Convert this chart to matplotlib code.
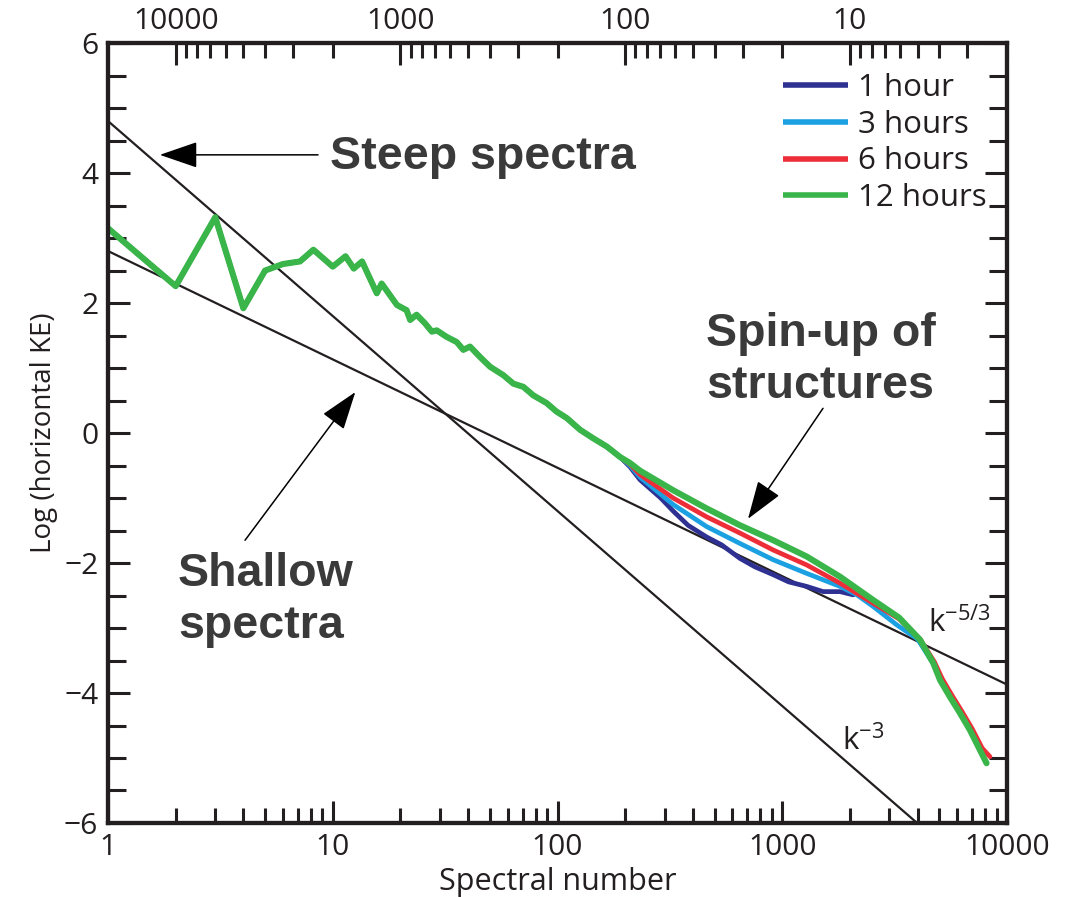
import matplotlib
matplotlib.use("Agg")
import matplotlib.pyplot as plt
from matplotlib.ticker import FixedLocator, NullFormatter

# low wavenumbers: all four runs lie on top of each other here
k_low = [1, 2, 3, 4, 5, 6, 7.15, 8.2, 10, 11.4, 12.4, 13.5, 15.7, 16.5, 19.3,
         21.3, 22.1, 23.6, 25.7, 27.6, 29, 32.1, 35.6, 38.1, 40.8, 45.2, 50.1,
         57.4, 63.6, 70.5, 78, 89.5, 99, 110, 126, 144, 166, 190]
ke_low = [3.15, 2.26, 3.32, 1.92, 2.5, 2.6, 2.64, 2.82, 2.56, 2.72, 2.53, 2.64,
          2.15, 2.30, 1.97, 1.89, 1.74, 1.82, 1.69, 1.56, 1.58, 1.48, 1.40, 1.28,
          1.33, 1.17, 1.02, 0.89, 0.76, 0.71, 0.58, 0.46, 0.33, 0.23, 0.05,
          -0.08, -0.21, -0.37]

# higher wavenumbers, one tail per forecast time
k_1h = [210, 233, 288, 327, 381, 461, 537, 649, 757, 912, 1067, 1285, 1520, 1807, 2070]
ke_1h = [-0.52, -0.72, -1.00, -1.20, -1.42, -1.60, -1.72, -1.93, -2.06, -2.18, -2.29,
         -2.36, -2.44, -2.44, -2.49]

k_3h = [210, 233, 327, 461, 649, 912, 1285, 1807, 2150, 2541, 3228, 4000, 4700, 5035]
ke_3h = [-0.50, -0.68, -1.10, -1.44, -1.70, -1.95, -2.16, -2.36, -2.49, -2.67, -2.95,
         -3.17, -3.55, -3.80]

k_6h = [210, 233, 327, 461, 649, 912, 1285, 1807, 2541, 3311, 4102, 4750, 5150, 5700,
        6320, 7000, 7760, 8400]
ke_6h = [-0.48, -0.64, -1.00, -1.29, -1.54, -1.80, -2.03, -2.31, -2.62, -2.86, -3.17,
         -3.52, -3.78, -4.04, -4.29, -4.55, -4.85, -4.98]

k_12h = [210, 233, 327, 461, 649, 912, 1285, 1807, 2541, 3311, 4102, 4699, 5035, 5572,
         6180, 6839, 7586, 8110]
ke_12h = [-0.46, -0.58, -0.88, -1.16, -1.42, -1.65, -1.90, -2.21, -2.57, -2.84, -3.18,
          -3.54, -3.80, -4.06, -4.31, -4.57, -4.88, -5.08]

labels = ["1 hour", "3 hours", "6 hours", "12 hours"]
colors = ["#2e3192", "#1ba1e2", "#ed2e38", "#39b54a"]

# reference power laws (end points on the log-log axes)
steep_k = [1, 10000]
steep_ke = [4.8, -7.2]          # k^-3
shallow_k = [1, 10000]
shallow_ke = [2.8, -3.87]       # k^-5/3

# wavelength (km) ticks for the top axis, k = 20000 / wavelength
wl_major = [10000, 1000, 100, 10]
wl_minor = [m * 10 ** e for e in range(4) for m in range(2, 10)]

ink = "#231f20"
note = "#3a3a3a"
tick_font = "Open Sans"

fig = plt.figure(figsize=(10.77, 8.97), dpi=100)
ax = fig.add_axes([0.1003, 0.0825, 0.8347, 0.8695])

tails = [(k_1h, ke_1h), (k_3h, ke_3h), (k_6h, ke_6h), (k_12h, ke_12h)]
widths = [3.4, 3.4, 3.4, 4.4]
for (kt, et), lab, c, lw in zip(tails, labels, colors, widths):
    ax.plot(k_low + kt, ke_low + et, color=c, lw=lw, label=lab,
            solid_joinstyle="round", solid_capstyle="round")

ax.plot(steep_k, steep_ke, color=ink, lw=1.6, zorder=1)
ax.plot(shallow_k, shallow_ke, color=ink, lw=1.6, zorder=1)

ax.set_xscale("log")
ax.set_xlim(1, 10000)
ax.set_ylim(-6, 6)
ax.set_xticks([1, 10, 100, 1000, 10000])
ax.set_xticklabels(["1", "10", "100", "1000", "10000"])
ax.xaxis.set_minor_locator(FixedLocator([m * 10 ** e for e in range(4) for m in range(2, 10)]))
ax.xaxis.set_minor_formatter(NullFormatter())
ax.set_yticks(range(-6, 7, 2))
ax.set_yticklabels(["\u22126", "\u22124", "\u22122", "0", "2", "4", "6"])
ax.yaxis.set_minor_locator(FixedLocator([v / 2 for v in range(-12, 13)]))

ax.tick_params(which="both", direction="in", width=2.2, color=ink,
               labelsize=21.5, labelcolor=ink, top=False, right=True)
ax.tick_params(which="major", length=15.5, pad=7)
ax.tick_params(axis="x", which="minor", length=10.5)
ax.tick_params(axis="y", which="minor", length=13)
for lab in ax.get_xticklabels() + ax.get_yticklabels():
    lab.set_fontfamily(tick_font)
for sp in ax.spines.values():
    sp.set_linewidth(3.0)
    sp.set_color(ink)

ax.set_xlabel("Spectral number", fontsize=22, family=tick_font, color=ink, labelpad=4)
ax.set_ylabel("Log (horizontal KE)", fontsize=20, family=tick_font, color=ink, labelpad=4)

# top axis: wavelength in km
top = ax.twiny()
top.set_xscale("log")
top.set_xlim(ax.get_xlim())
top.set_xticks([20000 / w for w in wl_major])
top.set_xticklabels([str(w) for w in wl_major])
top.xaxis.set_minor_locator(FixedLocator([20000 / w for w in wl_minor]))
top.xaxis.set_minor_formatter(NullFormatter())
top.tick_params(which="both", direction="in", width=2.2, color=ink,
                labelsize=21.5, labelcolor=ink)
top.tick_params(which="major", length=15.5, pad=5)
top.tick_params(which="minor", length=10.5)
for lab in top.get_xticklabels():
    lab.set_fontfamily(tick_font)
for sp in top.spines.values():
    sp.set_linewidth(3.0)
    sp.set_color(ink)

leg = ax.legend(loc="upper right", bbox_to_anchor=(0.977, 0.962), frameon=False,
                prop={"family": tick_font, "size": 22.5}, handlelength=2.1,
                handletextpad=0.3, labelspacing=0.22, borderaxespad=0, borderpad=0)
for t in leg.get_texts():
    t.set_color(ink)
for h in leg.legend_handles:
    h.set_linewidth(4.0)
    h.set_solid_capstyle("butt")

arrow = dict(arrowstyle="-|>,head_length=1.6,head_width=0.55", mutation_scale=15,
             color="black", lw=1.1, shrinkA=0, shrinkB=0)
bold = dict(family="Liberation Sans", weight="bold", size=33.5, color=note)

ax.annotate("", xy=(1.70, 4.28), xytext=(8.6, 4.28), arrowprops=arrow)
ax.text(9.7, 4.25, "Steep spectra", ha="left", va="center", **bold)

ax.annotate("", xy=(12.6, 0.63), xytext=(4.07, -1.65), arrowprops=arrow)
ax.text(2.05, -2.57, "Shallow\nspectra", ha="left", va="center", linespacing=1.22, **bold)

ax.annotate("", xy=(704, -1.32), xytext=(1518, 0.38), arrowprops=arrow)
ax.text(458, 1.12, "Spin-up of\nstructures", ha="left", va="center", linespacing=1.22, **bold)

ax.text(4455, -2.93, r"k$^{\mathregular{-5/3}}$", ha="left", va="center",
        fontsize=22.5, family=tick_font, color=ink)
ax.text(1845, -4.74, r"k$^{\mathregular{-3}}$", ha="left", va="center",
        fontsize=22.5, family=tick_font, color=ink)

fig.savefig("out.png", dpi=100)
